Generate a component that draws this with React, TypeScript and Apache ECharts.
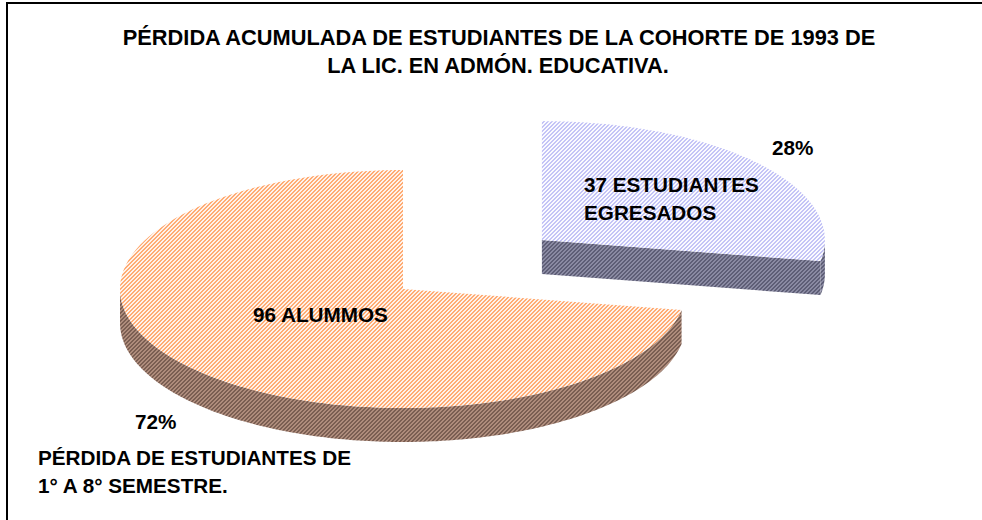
import React, { useEffect, useRef } from 'react';
import * as echarts from 'echarts';

// ---- data ----
const TITLE_LINES = [
  'PÉRDIDA ACUMULADA DE ESTUDIANTES DE LA COHORTE DE 1993 DE',
  'LA LIC. EN ADMÓN. EDUCATIVA.',
];
const CATEGORIES = ['37 ESTUDIANTES\nEGRESADOS', '96 ALUMMOS'];
const VALUES = [37, 96];
const OUTER_LABELS = ['', 'PÉRDIDA DE ESTUDIANTES DE\n1° A 8° SEMESTRE.'];
const EXPLODE = [0.64, 0];

// ---- layout / style ----
const CX = 403;
const CY = 289;
const RX = 283;
const RY = 119;
const DEPTH = 34;
const FONT = '"Liberation Sans", Arial, sans-serif';

const TOP_COLORS = [
  ['#C4C4F6', '#FAFAFF'],
  ['#FFAC74', '#FFF2EA'],
];
const SIDE_COLORS = [
  ['#5E5E76', '#8A8AA2'],
  ['#7A5E52', '#AE8C7C'],
];
const CAT_LABEL_POS = [
  [584, 198],
  [253, 314],
];
const PCT_LABEL_POS = [
  [772, 147],
  [135, 421],
];
const OUTER_LABEL_POS = [
  [0, 0],
  [38, 471],
];

function makePattern(fg: string, bg: string) {
  const c = document.createElement('canvas');
  c.width = 4;
  c.height = 4;
  const ctx = c.getContext('2d')!;
  ctx.fillStyle = bg;
  ctx.fillRect(0, 0, 4, 4);
  ctx.fillStyle = fg;
  for (let y = 0; y < 4; y++) {
    for (let x = 0; x < 4; x++) {
      if ((x + y) % 4 < 2) ctx.fillRect(x, y, 1, 1);
    }
  }
  return { image: c, repeat: 'repeat', imageWidth: 4, imageHeight: 4 } as any;
}

export default function App() {
  const ref = useRef<HTMLDivElement>(null);
  useEffect(() => {
    if (!ref.current) return;
    const chart = echarts.init(ref.current, undefined, { renderer: 'svg' });
    const total = VALUES.reduce((a, b) => a + b, 0);
    const cum: number[] = [];
    VALUES.reduce((acc, v, i) => {
      cum[i] = acc;
      return acc + v;
    }, 0);
    const topFills = TOP_COLORS.map(([f, b]) => makePattern(f, b));
    const sideFills = SIDE_COLORS.map(([f, b]) => makePattern(f, b));

    const renderItem = (params: any, api: any) => {
      const i = params.dataIndex;
      const v = api.value(0);
      const start = (cum[i] / total) * Math.PI * 2;
      const end = start + (v / total) * Math.PI * 2;
      const mid = (start + end) / 2;
      const e = EXPLODE[i];
      const cx = CX + e * RX * Math.sin(mid);
      const cy = CY - e * RY * Math.cos(mid);
      const pt = (t: number, d: number) => [cx + RX * Math.sin(t), cy - RY * Math.cos(t) + d];
      const arc = (a: number, b: number, d: number) => {
        const n = Math.max(2, Math.ceil(Math.abs(b - a) / (Math.PI / 180)));
        const pts: number[][] = [];
        for (let k = 0; k <= n; k++) pts.push(pt(a + ((b - a) * k) / n, d));
        return pts;
      };
      const children: any[] = [];
      const sideStyle = { fill: sideFills[i], stroke: null };
      if (Math.sin(start) < -1e-6) {
        children.push({
          type: 'polygon',
          shape: { points: [[cx, cy], pt(start, 0), pt(start, DEPTH), [cx, cy + DEPTH]] },
          style: sideStyle,
        });
      }
      if (Math.sin(end) > 1e-6) {
        children.push({
          type: 'polygon',
          shape: { points: [[cx, cy], pt(end, 0), pt(end, DEPTH), [cx, cy + DEPTH]] },
          style: sideStyle,
        });
      }
      const a = Math.max(start, Math.PI / 2);
      const b = Math.min(end, (Math.PI * 3) / 2);
      if (b > a) {
        children.push({
          type: 'polygon',
          shape: { points: arc(a, b, 0).concat(arc(b, a, DEPTH)) },
          style: sideStyle,
        });
      }
      children.push({
        type: 'polygon',
        shape: { points: [[cx, cy], ...arc(start, end, 0)] },
        style: { fill: topFills[i], stroke: null },
      });
      return { type: 'group', children };
    };

    const textEl = (text: string, x: number, y: number, align: string, size: number) => ({
      type: 'text',
      x,
      y,
      silent: true,
      style: {
        text,
        fill: '#000',
        font: `bold ${size}px ${FONT}`,
        lineHeight: 28,
        textAlign: align,
        textVerticalAlign: 'middle',
      },
    });

    const graphics: any[] = [
      {
        type: 'rect',
        shape: { x: 7, y: 3, width: 1100, height: 1100 },
        style: { fill: 'none', stroke: '#000', lineWidth: 2 },
        silent: true,
        z: 10,
      },
      textEl(TITLE_LINES[0], 499, 37, 'center', 21.8),
      textEl(TITLE_LINES[1], 498, 65, 'center', 21.8),
    ];
    VALUES.forEach((v, i) => {
      graphics.push(textEl(CATEGORIES[i], CAT_LABEL_POS[i][0], CAT_LABEL_POS[i][1], 'left', 20.7));
      graphics.push(
        textEl(Math.round((v / total) * 100) + '%', PCT_LABEL_POS[i][0], PCT_LABEL_POS[i][1], 'left', 20.7)
      );
      if (OUTER_LABELS[i]) {
        graphics.push(
          textEl(OUTER_LABELS[i], OUTER_LABEL_POS[i][0], OUTER_LABEL_POS[i][1], 'left', 20.7)
        );
      }
    });

    chart.setOption({
      animation: false,
      backgroundColor: '#fff',
      series: [
        {
          type: 'custom',
          coordinateSystem: 'none',
          renderItem,
          data: VALUES.map((v, i) => ({ name: CATEGORIES[i], value: [v] })),
          z: 2,
        },
      ],
      graphic: { elements: graphics.map((g) => ({ ...g, z: g.z ?? 20 })) },
    });
    return () => chart.dispose();
  }, []);
  return (
    <div
      ref={ref}
      style={{ position: 'fixed', left: 0, top: 0, width: 982, height: 520, background: '#fff' }}
    />
  );
}
